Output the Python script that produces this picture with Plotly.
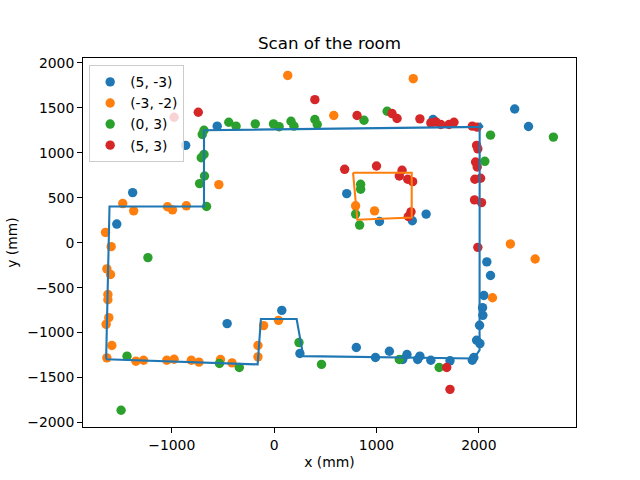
import plotly.graph_objects as go

# Series data (mm)
blue_x = [-864, -556, -1382, -1537, 709, 1029, 1350, 1485, 1553, 2350, 2485, -459, 75, 252, 803, 990, 1126, 1298, 1256, 1424, 1402, 1531, 1718, 1936, 1951, 1978, 2010, 2007, 2039, 2036, 2049, 2114, 2078]
blue_y = [1082, 1296, 557, 207, 546, 236, 244, 318, 1370, 1487, 1292, -900, -753, -1233, -1166, -1277, -1207, -1244, -1299, -1262, -1299, -1307, -1314, -1307, -1277, -1085, -1122, -919, -808, -723, -587, -365, -214]

orange_x = [-1479, -1372, -1042, -993, -857, -540, -1647, -1592, -1634, -1598, -1624, -1624, -1615, -1641, -1585, -1634, -1350, -1275, -1049, -977, -809, -734, -524, -411, -103, -158, -158, 43, 133, 1359, 583, 796, 981, 2308, 2550, 2133]
orange_y = [435, 354, 399, 365, 410, 646, 114, -44, -291, -354, -576, -635, -834, -908, -1144, -1281, -1318, -1307, -1307, -1296, -1307, -1329, -1299, -1337, -922, -1144, -1270, -864, 1860, 1824, 1414, 410, 354, -14, -181, -612]

green_x = [-443, -372, -184, -6, 49, -685, -702, -685, -712, -680, -728, -660, 165, 194, 398, 421, 1104, 878, 845, 845, 796, 835, 2114, 2058, 2728, -1233, -1437, -1495, -534, -340, 243, 463, 1223, 1612]
green_y = [1340, 1296, 1321, 1321, 1290, 1251, 1204, 982, 945, 742, 657, 402, 1351, 1296, 1370, 1315, 1462, 1362, 650, 595, 318, 196, 1196, 905, 1174, -166, -1262, -1864, -1343, -1388, -1111, -1354, -1299, -1388]

red_x = [-741, -977, 398, 810, 1152, 1201, 1424, 689, 1000, 1250, 1223, 1305, 1353, 1337, 1311, 1531, 1580, 1628, 1709, 1757, 1936, 1984, 1978, 1990, 1968, 1984, 1961, 2017, 1958, 2026, 1990, 1686, 1718]
red_y = [1451, 1395, 1591, 1414, 1436, 1381, 1377, 816, 853, 805, 742, 705, 679, 343, 291, 1332, 1343, 1315, 1315, 1340, 1296, 1285, 1082, 1044, 897, 842, 705, 716, 476, 446, -52, -1388, -1631]

# Room outline
room_x = [-1641, -1608, -685, -685, 2038, 2008, 2007, 1951, 285, 220, -129, -161, -1641]
room_y = [-1296, 402, 402, 1251, 1288, 1332, -1196, -1288, -1262, -849, -849, -1354, -1296]

# Obstacle outline
box_x = [771, 1344, 1344, 813, 771]
box_y = [778, 778, 280, 255, 778]

labels = ["(5, -3)", "(-3, -2)", "(0, 3)", "(5, 3)"]
colors = ["#1f77b4", "#ff7f0e", "#2ca02c", "#d62728"]

fig = go.Figure()
for i, ((xs, ys), lab, col) in enumerate(zip([(blue_x, blue_y), (orange_x, orange_y), (green_x, green_y), (red_x, red_y)], labels, colors)):
    fig.add_trace(go.Scatter(x=xs, y=ys, mode="markers", name=lab, legendgroup=f"g{i}",
                             marker=dict(color=col, size=9.4, line=dict(width=0))))

fig.add_trace(go.Scatter(x=room_x, y=room_y, mode="lines", showlegend=False,
                         line=dict(color=colors[0], width=2.1)))
fig.add_trace(go.Scatter(x=box_x, y=box_y, mode="lines", showlegend=False,
                         line=dict(color=colors[1], width=2.1)))

axis_common = dict(showgrid=False, zeroline=False, showline=True, linecolor="black",
                   linewidth=1.1, mirror=True, ticks="outside", ticklen=4.9, tickwidth=1.1,
                   tickcolor="black", tickfont=dict(size=13.9, color="black"))

fig.update_layout(
    width=640, height=480,
    margin=dict(l=80, r=64, t=57.6, b=52.8),
    paper_bgcolor="white", plot_bgcolor="white",
    font=dict(family="DejaVu Sans", color="black"),
    title=dict(text="Scan of the room", x=0.5, xref="paper", y=1 - 43 / 480, yref="container",
               yanchor="middle", xanchor="center", font=dict(size=16.7, color="black")),
    xaxis=dict(range=[-1867, 2949], tickvals=[-1000, 0, 1000, 2000],
               title=dict(text="x (mm)", font=dict(size=13.9), standoff=5), **axis_common),
    yaxis=dict(range=[-2050, 2054], tickvals=[-2000, -1500, -1000, -500, 0, 500, 1000, 1500, 2000],
               title=dict(text="y (mm)", font=dict(size=13.9), standoff=6), **axis_common),
    legend=dict(x=0.0125, y=0.98, xanchor="left", yanchor="top", traceorder="grouped",
                bgcolor="rgba(255,255,255,0.8)", bordercolor="#cccccc", borderwidth=1,
                font=dict(size=13.9), tracegroupgap=0, itemwidth=30),
    showlegend=True,
)

fig.write_html("out.html")
